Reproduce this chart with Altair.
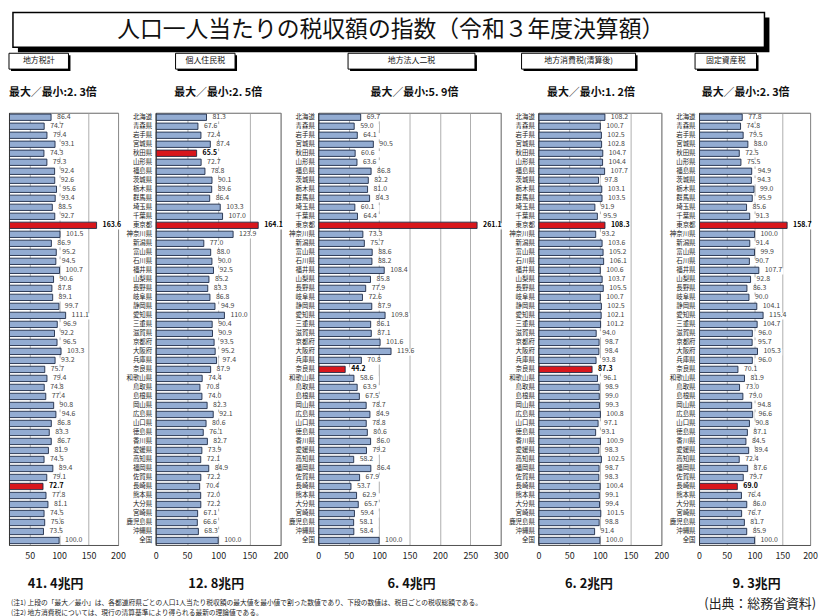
import altair as alt
import pandas as pd

FONT = "Noto Sans CJK JP"

prefectures = ["北海道", "青森県", "岩手県", "宮城県", "秋田県", "山形県", "福島県", "茨城県",
               "栃木県", "群馬県", "埼玉県", "千葉県", "東京都", "神奈川県", "新潟県", "富山県",
               "石川県", "福井県", "山梨県", "長野県", "岐阜県", "静岡県", "愛知県", "三重県",
               "滋賀県", "京都府", "大阪府", "兵庫県", "奈良県", "和歌山県", "鳥取県", "島根県",
               "岡山県", "広島県", "山口県", "徳島県", "香川県", "愛媛県", "高知県", "福岡県",
               "佐賀県", "長崎県", "熊本県", "大分県", "宮崎県", "鹿児島県", "沖縄県", "全国"]

total_tax = [86.4, 74.7, 79.4, 93.1, 74.3, 79.3, 92.4, 92.6, 95.6, 93.4, 88.5, 92.7, 163.6, 101.5,
             86.9, 95.2, 94.5, 100.7, 90.6, 87.8, 89.1, 99.7, 111.1, 96.9, 92.2, 96.5, 103.3, 93.2,
             75.7, 79.4, 74.8, 77.4, 90.8, 94.6, 86.8, 83.3, 86.7, 81.9, 74.5, 89.4, 79.1, 72.7,
             77.8, 81.1, 74.5, 75.6, 73.5, 100.0]
personal_tax = [81.3, 67.6, 72.4, 87.4, 65.5, 72.7, 78.8, 90.1, 89.6, 86.4, 103.3, 107.0, 164.1, 123.9,
                77.0, 88.0, 90.0, 92.5, 85.2, 83.3, 86.8, 94.9, 110.0, 90.4, 90.9, 93.5, 95.2, 97.4,
                87.9, 74.4, 70.8, 74.0, 82.3, 92.1, 80.6, 76.1, 82.7, 73.9, 72.1, 84.9, 72.2, 70.4,
                72.0, 72.2, 67.1, 66.6, 68.3, 100.0]
corporate_tax = [69.7, 59.0, 64.1, 90.5, 60.6, 63.6, 86.8, 82.2, 81.0, 84.3, 60.1, 64.4, 261.1, 73.3,
                 75.7, 88.6, 88.2, 108.4, 85.8, 77.9, 72.6, 87.9, 109.8, 86.1, 87.1, 101.6, 119.6, 70.8,
                 44.2, 58.6, 63.9, 67.5, 78.7, 84.9, 78.8, 80.6, 86.0, 79.2, 58.2, 86.4, 67.9, 53.7,
                 62.9, 65.7, 59.4, 58.1, 58.4, 100.0]
consumption_tax = [108.2, 100.7, 102.5, 102.8, 104.7, 104.4, 107.7, 97.8, 103.1, 103.5, 91.9, 95.9, 108.3, 93.2,
                   103.6, 105.2, 106.1, 100.6, 103.7, 105.5, 100.7, 102.5, 102.1, 101.2, 94.0, 98.7, 98.4, 93.8,
                   87.3, 96.1, 98.9, 99.0, 99.3, 100.8, 97.1, 93.1, 100.9, 98.3, 102.5, 98.7, 98.3, 100.4,
                   99.1, 99.4, 101.5, 98.8, 91.4, 100.0]
property_tax = [77.8, 74.8, 79.5, 88.0, 72.5, 75.5, 94.9, 94.3, 99.0, 95.9, 85.6, 91.3, 158.7, 100.0,
                91.4, 99.9, 90.7, 107.7, 92.8, 86.3, 90.0, 104.1, 115.4, 104.7, 96.0, 95.7, 105.3, 96.0,
                70.1, 81.9, 73.0, 79.0, 94.8, 96.6, 90.8, 87.1, 84.5, 89.4, 72.4, 87.6, 79.7, 69.0,
                76.4, 86.0, 76.7, 81.7, 85.9, 100.0]

panel_titles = ["地方税計", "個人住民税", "地方法人二税", "地方消費税(清算後)", "固定資産税"]
ratio_texts = ["最大／最小:2. 3倍", "最大／最小:2. 5倍", "最大／最小:5. 9倍", "最大／最小:1. 2倍", "最大／最小:2. 3倍"]
total_texts = ["41. 4兆円", "12. 8兆円", "6. 4兆円", "6. 2兆円", "9. 3兆円"]
main_title = "人口一人当たりの税収額の指数（令和３年度決算額）"
note1 = "(注1) 上段の「最大／最小」は、各都道府県ごとの人口1人当たり税収額の最大値を最小値で割った数値であり、下段の数値は、税目ごとの税収総額である。"
note2 = "(注2) 地方消費税については、現行の清算基準により得られる最新の理論値である。"
source_text = "(出典：総務省資料)"

H = 436
one = pd.DataFrame({"a": [0]})


def txt(text, x, y, size, weight="normal", align="center", color="#111"):
    return alt.Chart(one).mark_text(text=text, fontSize=size, fontWeight=weight, align=align,
                                    baseline="middle", font=FONT, color=color).encode(
        x=alt.value(x), y=alt.value(y))


def box(x0, x1, y0, y1, shadow, sw=1):
    sh = alt.Chart(one).mark_rect(color="black").encode(
        x=alt.value(x0 + shadow), x2=alt.value(x1 + shadow), y=alt.value(y0 + shadow), y2=alt.value(y1 + shadow))
    bx = alt.Chart(one).mark_rect(fill="white", stroke="black", strokeWidth=sw).encode(
        x=alt.value(x0), x2=alt.value(x1), y=alt.value(y0), y2=alt.value(y1))
    return [sh, bx]


def panel(vals, i, domain, ticks, width, show_y, hx, rx, ralign, tx, extra=()):
    df = pd.DataFrame({"pref": prefectures, "value": vals})
    core = df["value"][:-1]
    df["hl"] = ((df["value"] == core.max()) | (df["value"] == core.min())) & (df["pref"] != "全国")
    df["value2"] = df["value"]
    base = alt.Chart(df)
    y = alt.Y("pref:N", sort=prefectures,
              scale=alt.Scale(domain=prefectures, paddingInner=0.3, paddingOuter=0.15),
              axis=alt.Axis(title=None, labels=show_y, ticks=False, domain=True, domainColor="#333",
                            labelFontSize=6.5, labelFont=FONT, labelColor="#222", labelPadding=4,
                            labelOverlap=False, labelLimit=80))
    x = alt.X("value:Q", scale=alt.Scale(domain=domain, nice=False, zero=False),
              axis=alt.Axis(title=None, values=ticks, grid=True, gridColor="#9a9a9a", gridWidth=0.8,
                            ticks=False, labelFontSize=9, labelFont=FONT, labelColor="#222",
                            labelPadding=7, domainColor="#555", labelFlush=False))
    bars = base.mark_bar(stroke="#1c2a46", strokeWidth=0.9, clip=True).encode(
        x=x, y=y,
        color=alt.condition(alt.datum.hl, alt.value("#d8161c"), alt.value("#93acd2")))
    bg = base.mark_rect(color="white", xOffset=2, x2Offset=25, yOffset=1, y2Offset=-1).encode(
        x=x, x2="value2:Q", y=y)
    labels = base.transform_filter("!datum.hl").mark_text(
        align="left", dx=6, fontSize=7, font=FONT, color="#444").encode(
        x=x, y=y, text=alt.Text("value:Q", format=".1f"))
    labels_hl = base.transform_filter("datum.hl").mark_text(
        align="left", dx=6, fontSize=7, font=FONT, fontWeight="bold", color="#000").encode(
        x=x, y=y, text=alt.Text("value:Q", format=".1f"))
    layers = [bg, bars, labels, labels_hl]
    layers += box(hx[0], hx[1], -60, -44, 2)
    layers.append(txt(panel_titles[i], (hx[0] + hx[1]) / 2, -52, 8))
    layers.append(txt(ratio_texts[i], rx, -20, 11, "bold", ralign))
    layers.append(txt(total_texts[i], tx, H + 39, 13, "bold"))
    layers += list(extra)
    return alt.layer(*layers).properties(width=width, height=H)


extra1 = box(4, 762, -101, -66, 5, 1.5) + [
    txt(main_title, 385, -83, 23, "normal"),
    txt(note1, 2, H + 58.5, 6.8, align="left", color="#222"),
    txt(note2, 2, H + 68.5, 6.8, align="left", color="#222"),
]
extra5 = [txt(source_text, 118, H + 60, 13, align="right", color="#222")]

p1 = panel(total_tax, 0, [15, 200], [50, 100, 150, 200], 110, False, (0, 60), 0, "left", 47, extra1)
p2 = panel(personal_tax, 1, [0, 200], [0, 50, 100, 150, 200], 126, True, (20, 80), 63, "center", 61)
p3 = panel(corporate_tax, 2, [0, 300], [0, 50, 100, 150, 200, 250, 300], 184, True, (30, 158), 97, "center", 94)
p4 = panel(consumption_tax, 3, [0, 200], [0, 50, 100, 150, 200], 124, True, (-17, 98), 53, "center", 51)
p5 = panel(property_tax, 4, [0, 200], [0, 50, 100, 150, 200], 112, True, (-4, 58), 47, "center", 58, extra5)

chart = alt.hconcat(p1, p2, p3, p4, p5, spacing=38, bounds="flush").properties(
    padding=0, background="white"
).configure_view(stroke="#666", strokeWidth=1)

chart.save("out.html", embed_options={"renderer": "svg", "actions": False})
